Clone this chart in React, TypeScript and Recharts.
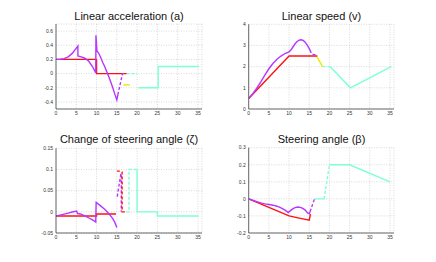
import { LineChart, Line, XAxis, YAxis, CartesianGrid } from 'recharts';

type Pt = [number, number];

const X_TICKS = [0, 5, 10, 15, 20, 25, 30, 35];

// Linear acceleration (a)
const accRef: Pt[] = [[0, 0.2], [10, 0.2], [10, 0], [17.4, 0]];
const accActual: Pt[] = [
  [0, 0.2], [1, 0.203], [2, 0.212], [3, 0.237], [4, 0.285], [5, 0.36], [5.4, 0.39], [5.4, 0.25],
  [6, 0.24], [7, 0.22], [8, 0.18], [9, 0.1], [9.8, 0.01], [9.85, 0.54], [10.1, 0.32], [10.5, 0.29],
  [11, 0.23], [11.5, 0.16], [12, 0.1], [12.5, 0.03], [13, -0.04], [13.5, -0.12], [14, -0.2],
  [14.5, -0.29], [15, -0.37], [15.25, -0.3],
];
const accTransition: Pt[] = [[15.25, -0.3], [16.4, 0], [17, 0]];
const accYellow: Pt[] = [[16.6, -0.16], [18.2, -0.16]];
const accCyanDash: Pt[] = [[17.4, 0], [20, 0]];
const accCyan: Pt[] = [[20.3, -0.2], [25.2, -0.2], [25.2, 0.1], [35.3, 0.1]];
const ACC_TICKS = [-0.4, -0.2, 0, 0.2, 0.4, 0.6];

// Linear speed (v)
const spdRef: Pt[] = [[0, 0.5], [10, 2.5], [17, 2.5]];
const spdActual: Pt[] = [
  [0, 0.5], [1, 0.72], [2, 0.98], [3, 1.28], [4, 1.6], [5, 1.9], [6, 2.15], [7, 2.35], [8, 2.5],
  [9, 2.62], [10, 2.7], [10.5, 2.8], [11, 2.94], [11.5, 3.08], [12, 3.19], [12.5, 3.25], [13, 3.27],
  [13.5, 3.24], [14, 3.15], [14.5, 3.02], [15, 2.85], [15.5, 2.65],
];
const spdTransition: Pt[] = [[15.8, 2.58], [17, 2.55]];
const spdYellow: Pt[] = [[16.9, 2.47], [18.3, 2.0]];
const spdCyanDash: Pt[] = [[18.3, 2], [20.2, 2]];
const spdCyan: Pt[] = [[20.2, 2], [25.2, 1], [35.3, 2]];
const SPD_TICKS = [0, 1, 2, 3, 4];

// Change of steering angle (zeta)
const zetaRef: Pt[] = [[0, -0.01], [10, -0.01], [10, -0.005], [14.8, -0.005]];
const zetaActual: Pt[] = [
  [0, -0.01], [1, -0.0078], [2, -0.0055], [3, -0.003], [4, -0.0005], [5.1, 0.002], [5.3, -0.004],
  [6, -0.005], [7, -0.009], [8, -0.014], [9, -0.019], [9.8, -0.024], [9.9, 0.022], [11, 0.014],
  [12, 0.006], [13, -0.004], [14, -0.016], [14.5, -0.025], [15, -0.037],
];
const zetaTransition: Pt[] = [[15.1, 0.036], [16, 0.09], [16.1, 0.09], [16.1, 0]];
const zetaRefDash: Pt[] = [[15, 0.096], [15.9, 0.096], [16.3, 0.094], [16.3, 0], [17.3, 0]];
const zetaCyanDash: Pt[] = [[17.3, 0], [18, 0], [18, 0.1], [20, 0.1]];
const zetaCyan: Pt[] = [[20, 0.1], [20, 0], [25, 0], [25, -0.01], [35.2, -0.01]];
const ZETA_TICKS = [-0.05, 0, 0.05, 0.1, 0.15];

// Steering angle (beta)
const betaRef: Pt[] = [[0, 0], [5, -0.05], [10, -0.1], [12.5, -0.113], [15, -0.125], [15.3, -0.09]];
const betaActual: Pt[] = [
  [0, 0], [1, -0.008], [2, -0.016], [3, -0.023], [4, -0.029], [5, -0.033], [6, -0.037], [7, -0.043],
  [8, -0.053], [9, -0.066], [9.8, -0.08], [10.5, -0.066], [11, -0.057], [11.5, -0.051], [12.2, -0.048],
  [13, -0.051], [13.5, -0.057], [14, -0.066], [14.6, -0.082], [15, -0.087], [15.2, -0.075],
];
const betaTransition: Pt[] = [[15.2, -0.075], [16.3, 0]];
const betaCyanFlat: Pt[] = [[16.3, 0], [18.7, 0]];
const betaCyanDash: Pt[] = [[18.7, 0], [20, 0.2]];
const betaCyan: Pt[] = [[20, 0.2], [25, 0.2], [35, 0.1]];
const BETA_TICKS = [-0.2, -0.1, 0, 0.1, 0.2, 0.3];

const RED = '#ff1010';
const PURPLE = '#b636ff';
const CYAN = '#7dffd8';
const YELLOW = '#eaea00';
const FONT = '"Liberation Sans", Arial, Helvetica, sans-serif';

const W = 436;
const H = 262;
const Y_AXIS_W = 24;
const X_AXIS_H = 12;

interface Series {
  pts: Pt[];
  color: string;
  dashed?: boolean;
}

interface Box {
  l: number;
  t: number;
  r: number;
  b: number;
}

const toRows = (pts: Pt[]) => pts.map(([x, y]) => ({ x, y }));

const Panel = ({ box, yDomain, yTicks, series }: { box: Box; yDomain: [number, number]; yTicks: number[]; series: Series[] }) => (
  <div style={{ position: 'absolute', left: 0, top: 0 }}>
    <LineChart
      width={W}
      height={H}
      margin={{ left: box.l - Y_AXIS_W, top: box.t, right: W - box.r, bottom: H - box.b - X_AXIS_H }}
    >
      <CartesianGrid stroke="#c8c8c8" strokeDasharray="1 1.5" strokeWidth={0.7} />
      <XAxis
        dataKey="x"
        type="number"
        domain={[0, 36]}
        ticks={X_TICKS}
        height={X_AXIS_H}
        tickLine={false}
        tickSize={1}
        tickMargin={1.5}
        axisLine={{ stroke: '#444', strokeWidth: 0.8 }}
        tick={{ fontSize: 5, fill: '#333', fontFamily: FONT }}
        interval={0}
        allowDataOverflow
      />
      <YAxis
        type="number"
        domain={yDomain}
        ticks={yTicks}
        width={Y_AXIS_W}
        tickLine={false}
        tickSize={1}
        tickMargin={2}
        axisLine={{ stroke: '#444', strokeWidth: 0.8 }}
        tick={{ fontSize: 5, fill: '#333', fontFamily: FONT }}
        interval={0}
        allowDataOverflow
      />
      {series.map((s, i) => (
        <Line
          key={i}
          data={toRows(s.pts)}
          dataKey="y"
          type="linear"
          stroke={s.color}
          strokeWidth={1.4}
          strokeDasharray={s.dashed ? '3 2' : undefined}
          dot={false}
          activeDot={false}
          isAnimationActive={false}
        />
      ))}
    </LineChart>
  </div>
);

const TITLES = [
  { text: 'Linear acceleration (a)', x: 129, y: 19.5 },
  { text: 'Linear speed (v)', x: 321.5, y: 19.5 },
  { text: 'Change of steering angle (\u03B6)', x: 129, y: 143 },
  { text: 'Steering angle (\u03B2)', x: 321.5, y: 143 },
];

export default function App() {
  return (
    <div style={{ position: 'absolute', left: 0, top: 0, width: W, height: H, background: '#fff' }}>
      <Panel
        box={{ l: 56, t: 24, r: 202, b: 109 }}
        yDomain={[-0.5, 0.7]}
        yTicks={ACC_TICKS}
        series={[
          { pts: accCyanDash, color: CYAN, dashed: true },
          { pts: accCyan, color: CYAN },
          { pts: accYellow, color: YELLOW },
          { pts: accRef, color: RED },
          { pts: accActual, color: PURPLE },
          { pts: accTransition, color: PURPLE, dashed: true },
        ]}
      />
      <Panel
        box={{ l: 248.7, t: 24.3, r: 394, b: 109 }}
        yDomain={[0, 4]}
        yTicks={SPD_TICKS}
        series={[
          { pts: spdCyanDash, color: CYAN, dashed: true },
          { pts: spdCyan, color: CYAN },
          { pts: spdYellow, color: YELLOW },
          { pts: spdRef, color: RED },
          { pts: spdActual, color: PURPLE },
          { pts: spdTransition, color: PURPLE, dashed: true },
        ]}
      />
      <Panel
        box={{ l: 56, t: 148.3, r: 202, b: 233 }}
        yDomain={[-0.05, 0.15]}
        yTicks={ZETA_TICKS}
        series={[
          { pts: zetaCyanDash, color: CYAN, dashed: true },
          { pts: zetaCyan, color: CYAN },
          { pts: zetaRef, color: RED },
          { pts: zetaActual, color: PURPLE },
          { pts: zetaTransition, color: PURPLE, dashed: true },
          { pts: zetaRefDash, color: RED, dashed: true },
        ]}
      />
      <Panel
        box={{ l: 248.7, t: 147.7, r: 394, b: 233 }}
        yDomain={[-0.2, 0.3]}
        yTicks={BETA_TICKS}
        series={[
          { pts: betaCyanFlat, color: CYAN },
          { pts: betaCyanDash, color: CYAN, dashed: true },
          { pts: betaCyan, color: CYAN },
          { pts: betaRef, color: RED },
          { pts: betaActual, color: PURPLE },
          { pts: betaTransition, color: PURPLE, dashed: true },
        ]}
      />
      <svg width={W} height={H} style={{ position: 'absolute', left: 0, top: 0, pointerEvents: 'none' }}>
        {TITLES.map((t) => (
          <text key={t.text} x={t.x} y={t.y} textAnchor="middle" fontSize={11} fontFamily={FONT} fill="#111">
            {t.text}
          </text>
        ))}
      </svg>
    </div>
  );
}
